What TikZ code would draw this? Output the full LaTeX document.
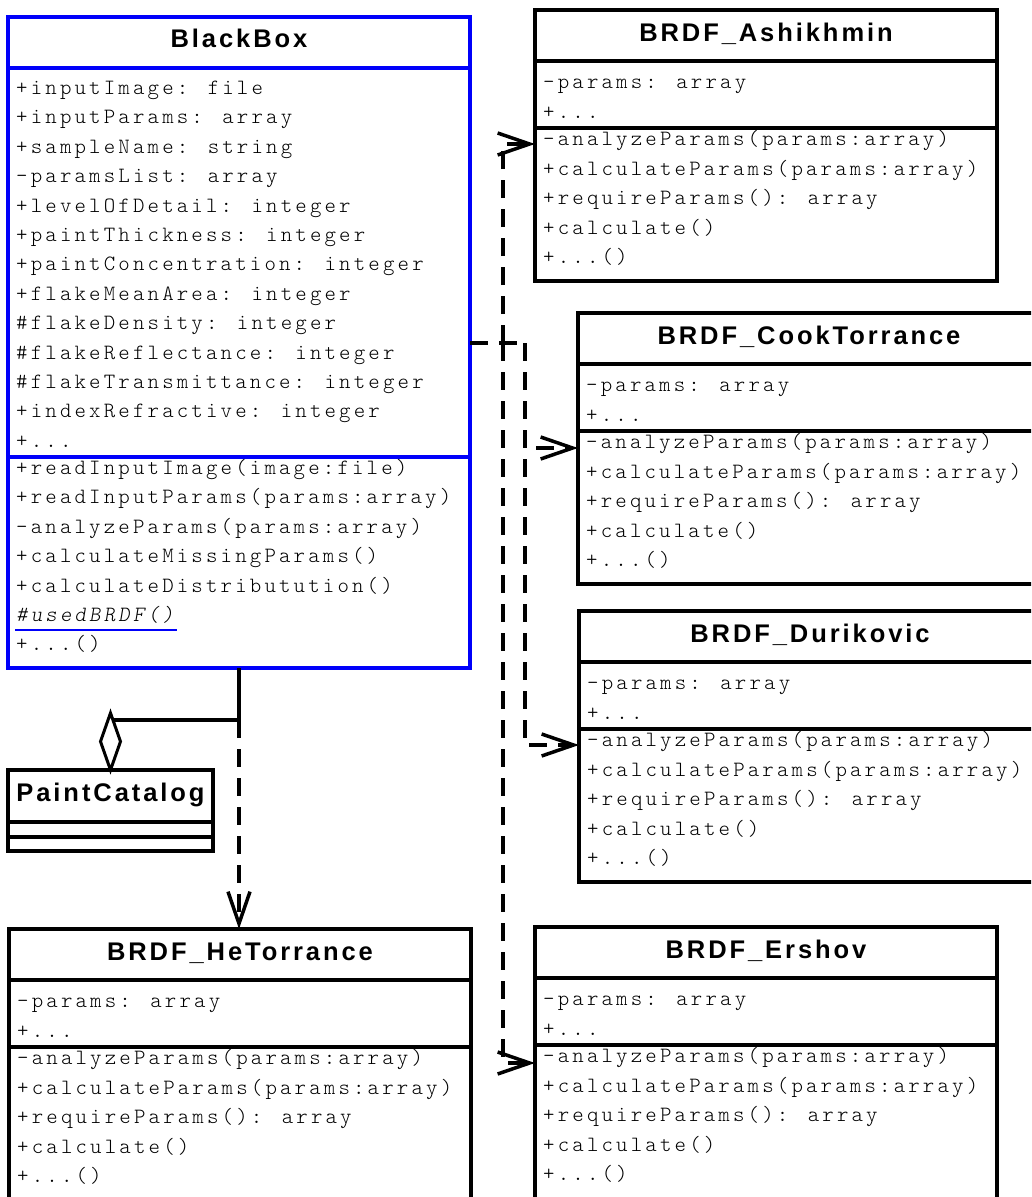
\documentclass[tikz,border=0pt]{standalone}
\usepackage{fontspec}
\setmainfont{Liberation Sans}
\newfontfamily\umlmono{lmmonolt10-regular}[Extension=.otf, ItalicFont=lmmonolt10-oblique, LetterSpace=14.5]
\newfontfamily\umltitle{Liberation Sans}[LetterSpace=11.5]
\usetikzlibrary{arrows.meta}
\definecolor{umlblue}{RGB}{0,0,250}

\tikzset{
  box/.style={draw, line width=3.5pt, rectangle, inner sep=0pt, outer sep=0pt, anchor=north west, fill=white},
  sepline/.style={line width=3.5pt},
  ttl/.style={anchor=base, inner sep=0pt, font=\umltitle\bfseries\fontsize{25.5}{25.5}\selectfont},
  row/.style={anchor=base west, inner sep=0pt, font=\umlmono\fontsize{21.8}{21.8}\selectfont},
  depline/.style={line width=3.5pt, dash pattern=on 18pt off 11pt},
  dep/.style={depline, -{Straight Barb[length=32pt, width=22pt, line width=3.5pt]}},
  solidcon/.style={line width=3.5pt}
}

% #1 name, #2 x, #3 y (top), #4 width, #5 title, #6 height
\newcommand\umlbrdf[6]{%
  \node[box, minimum width=#4pt, minimum height=#6pt] (#1) at (#2,#3) {};
  \draw[sepline] (#2,#3+51) -- (#2+#4,#3+51);
  \draw[sepline] (#2,#3+118) -- (#2+#4,#3+118);
  \node[ttl] (#1-t) at (#2+#4/2,#3+31) {#5};
  \node[row] (#1-a1) at (#2+8,#3+78.5) {-params: array};
  \node[row] (#1-a2) at (#2+8,#3+108) {+...};
  \node[row] (#1-m1) at (#2+8,#3+135.5) {-analyzeParams(params:array)};
  \node[row] (#1-m2) at (#2+8,#3+165) {+calculateParams(params:array)};
  \node[row] (#1-m3) at (#2+8,#3+194.5) {+requireParams(): array};
  \node[row] (#1-m4) at (#2+8,#3+224) {+calculate()};
  \node[row] (#1-m5) at (#2+8,#3+253.5) {+...()};
}

\begin{document}
\begin{tikzpicture}[x=1pt,y=-1pt]
\useasboundingbox (0,0) rectangle (1031,1197);
\clip (0,0) rectangle (1031,1197);

% ---------- BlackBox ----------
\node[box, draw=umlblue, minimum width=462pt, minimum height=651pt] (bb) at (8,17) {};
\draw[sepline, umlblue] (8,68) -- (470,68);
\draw[sepline, umlblue] (8,457) -- (470,457);
\node[ttl] (bb-t) at (239,47.7) {BlackBox};
\node[row] (bb-a1) at (16,94.5) {+inputImage: file};
\node[row] (bb-a2) at (16,123.9) {+inputParams: array};
\node[row] (bb-a3) at (16,153.3) {+sampleName: string};
\node[row] (bb-a4) at (16,182.7) {-paramsList: array};
\node[row] (bb-a5) at (16,212.1) {+levelOfDetail: integer};
\node[row] (bb-a6) at (16,241.5) {+paintThickness: integer};
\node[row] (bb-a7) at (16,270.9) {+paintConcentration: integer};
\node[row] (bb-a8) at (16,300.3) {+flakeMeanArea: integer};
\node[row] (bb-a9) at (16,329.7) {\#flakeDensity: integer};
\node[row] (bb-a10) at (16,359.1) {\#flakeReflectance: integer};
\node[row] (bb-a11) at (16,388.5) {\#flakeTransmittance: integer};
\node[row] (bb-a12) at (16,417.9) {+indexRefractive: integer};
\node[row] (bb-a13) at (16,447.3) {+...};
\node[row] (bb-m1) at (16,474.5) {+readInputImage(image:file)};
\node[row] (bb-m2) at (16,503.9) {+readInputParams(params:array)};
\node[row] (bb-m3) at (16,533.3) {-analyzeParams(params:array)};
\node[row] (bb-m4) at (16,562.7) {+calculateMissingParams()};
\node[row] (bb-m5) at (16,592.1) {+calculateDistributution()};
\node[row] (bb-m6) at (16,621.5) {\itshape\#usedBRDF()};
\draw[umlblue, line width=1.3pt] (15,630) -- (177,630);
\node[row] (bb-m7) at (16,650.9) {+...()};

% ---------- PaintCatalog ----------
\node[box, minimum width=205pt, minimum height=81pt] (pc) at (8,770) {};
\draw[sepline] (8,822) -- (213,822);
\draw[sepline] (8,837) -- (213,837);
\node[ttl] (pc-t) at (110.5,801.7) {PaintCatalog};

% ---------- BRDF classes ----------
\umlbrdf{ash}{535}{10}{462}{BRDF\_Ashikhmin}{271}
\umlbrdf{ct}{578}{313}{462}{BRDF\_CookTorrance}{271}
\umlbrdf{du}{579}{611}{462}{BRDF\_Durikovic}{271}
\umlbrdf{er}{535}{927}{462}{BRDF\_Ershov}{285}
\umlbrdf{he}{9}{929}{462}{BRDF\_HeTorrance}{285}

% ---------- connectors ----------
\coordinate (ja) at (503,343);
\coordinate (jb) at (525,343);
\coordinate (hA) at (0,144);
\coordinate (hC) at (0,448);
\coordinate (hD) at (0,745);
\coordinate (hE) at (0,1063);
\draw[depline] (bb.east |- ja) -- (jb);
\draw[dep] (ja) |- (ash.west |- hA);
\draw[dep] (ja) |- (er.west |- hE);
\draw[dep] (jb) |- (ct.west |- hC);
\draw[dep] (jb) |- (du.west |- hD);

\coordinate (hk) at (239,720);
\draw[solidcon] (bb.south -| hk) -- (hk) -- (hk -| pc.north);
\draw[line width=3pt, fill=white, line join=miter] (pc.north) -- ++(-10,-28.5) -- ++(10,-28.5) -- ++(10,28.5) -- cycle;
\draw[dep] (hk) -- (he.north -| hk);
\end{tikzpicture}
\end{document}
